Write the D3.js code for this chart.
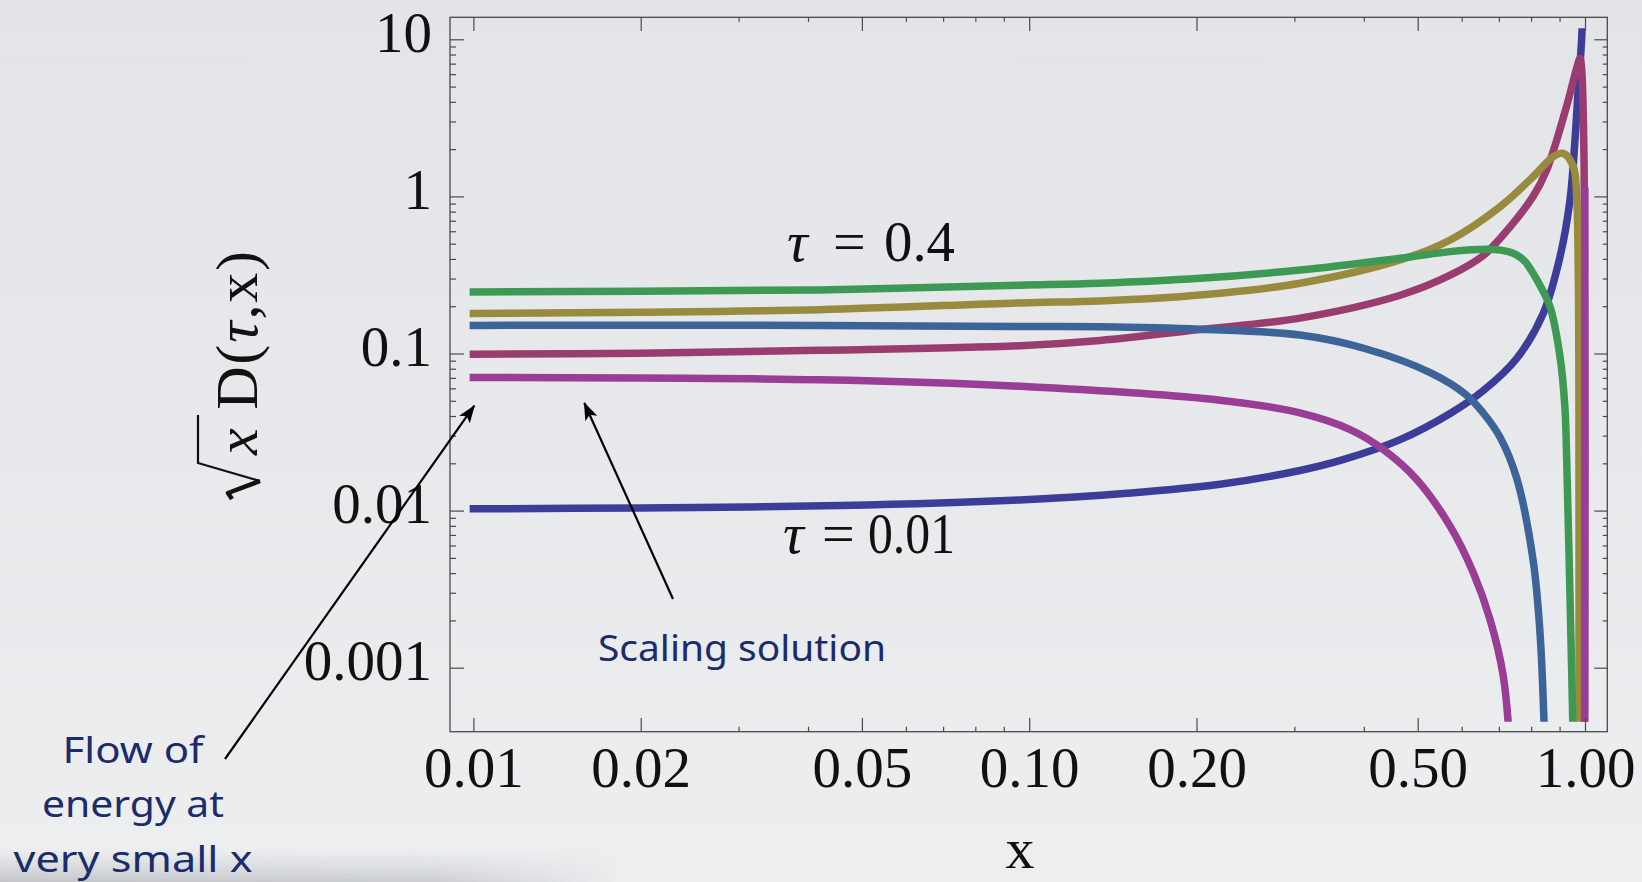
<!DOCTYPE html>
<html>
<head>
<meta charset="utf-8">
<script src="https://cdn.jsdelivr.net/npm/d3@7"></script>
<style>
  html, body { margin: 0; padding: 0; overflow: hidden; background: #e6e8eb; }
</style>
</head>
<body>
<div id="chart"></div>
<script>
// tick values and labels
const xMajor = [0.01, 0.02, 0.05, 0.1, 0.2, 0.5, 1];
const xMajorLabels = ["0.01", "0.02", "0.05", "0.10", "0.20", "0.50", "1.00"];
const xMinor = [0.03, 0.04, 0.06, 0.07, 0.08, 0.09, 0.3, 0.4, 0.6, 0.7, 0.8, 0.9];
const yMajor = [0.001, 0.01, 0.1, 1, 10];
const yMajorLabels = ["0.001", "0.01", "0.1", "1", "10"];

// curves [x, sqrt(x) D(tau,x)]
const tauSmall = [[0.01, 0.01026], [0.02, 0.0104], [0.0457, 0.01077], [0.0963, 0.0117], [0.15, 0.0129],
  [0.2204, 0.0147], [0.307, 0.018], [0.367, 0.0211], [0.465, 0.0283], [0.572, 0.0415], [0.656, 0.058],
  [0.7535, 0.093], [0.841, 0.18], [0.9016, 0.413], [0.9397, 0.95], [0.9594, 2.29], [0.972, 4.76],
  [0.986, 9.9], [0.993, 20]];
const crimson = [[0.01, 0.0989], [0.02, 0.1005], [0.042, 0.1047], [0.0963, 0.112], [0.1341, 0.121],
  [0.2029, 0.142], [0.307, 0.168], [0.465, 0.235], [0.572, 0.315], [0.656, 0.42], [0.7034, 0.54],
  [0.8065, 1.0], [0.853, 1.47], [0.926, 3.72], [0.9667, 6.6], [0.9795, 7.57], [0.986, 6.5],
  [0.9965, 1.5], [0.998, 0.0003]];
const olive = [[0.01, 0.18], [0.02, 0.183], [0.042, 0.19], [0.0963, 0.21], [0.1341, 0.216], [0.2029, 0.2357],
  [0.307, 0.28], [0.465, 0.394], [0.572, 0.528], [0.7034, 0.86], [0.8065, 1.335], [0.877, 1.79],
  [0.914, 1.88], [0.953, 1.545], [0.966, 1.0], [0.9725, 0.326], [0.975, 0.075], [0.9755, 0.0003]];
const tauLarge = [[0.01, 0.2465], [0.02, 0.249], [0.042, 0.254], [0.0963, 0.272], [0.1341, 0.28],
  [0.2029, 0.301], [0.307, 0.34], [0.465, 0.404], [0.572, 0.445], [0.625, 0.457], [0.668, 0.461],
  [0.705, 0.455], [0.735, 0.44], [0.7535, 0.424], [0.78, 0.385], [0.8065, 0.324], [0.835, 0.26],
  [0.865, 0.1986], [0.9016, 0.0955], [0.92, 0.0458], [0.927, 0.021], [0.94, 0.00272], [0.953, 0.0003]];
const steel = [[0.01, 0.151], [0.042, 0.151], [0.0963, 0.1485], [0.1341, 0.148], [0.2029, 0.1427],
  [0.307, 0.131], [0.4, 0.108], [0.53, 0.0748], [0.612, 0.0544], [0.656, 0.0418], [0.703, 0.0294],
  [0.7535, 0.0161], [0.8065, 0.00485], [0.83, 0.00166], [0.847, 0.0003]];
const scaling = [[0.01, 0.0703], [0.042, 0.068], [0.0963, 0.0618], [0.2204, 0.0504], [0.307, 0.0419],
  [0.378, 0.0328], [0.4336, 0.0245], [0.498, 0.0158], [0.5718, 0.00796], [0.6296, 0.00402],
  [0.6747, 0.00203], [0.7128, 0.000885], [0.733, 0.0003]];
const scalingEdge = [[0.9985, 0.0003], [0.9995, 1.08]];

const series = [
  { data: tauSmall, color: "#3d3d99" },
  { data: crimson, color: "#993d71" },
  { data: olive, color: "#998b3d" },
  { data: tauLarge, color: "#3d9954" },
  { data: steel, color: "#3d6499" },
  { data: scaling, color: "#993d96" },
  { data: scalingEdge, color: "#993d96" }
];

const W = 1642, H = 882;
const frame = { left: 450, right: 1607.3, top: 17.3, bottom: 731.7 };
const serif = "'Liberation Serif', 'Times New Roman', Times, serif";
const hand = "'Comic Sans MS', 'Noto Sans', 'DejaVu Sans', sans-serif";
const navy = "#1b2b6b";

const svg = d3.select('#chart').append('svg')
  .attr('width', W)
  .attr('height', H);

const defs = svg.append('defs');
const bg = defs.append('linearGradient').attr('id', 'bg').attr('x1', 0).attr('y1', 0).attr('x2', 0).attr('y2', 1);
bg.append('stop').attr('offset', '0%').attr('stop-color', '#e2e4e7');
bg.append('stop').attr('offset', '100%').attr('stop-color', '#eceef0');
const sh = defs.append('linearGradient').attr('id', 'shadow').attr('x1', 0).attr('y1', 0).attr('x2', 0).attr('y2', 1);
sh.append('stop').attr('offset', '0%').attr('stop-color', '#c9cbce').attr('stop-opacity', 0);
sh.append('stop').attr('offset', '100%').attr('stop-color', '#c0c2c5').attr('stop-opacity', 0.9);
const shx = defs.append('linearGradient').attr('id', 'shadowMask').attr('x1', 0).attr('y1', 0).attr('x2', 1).attr('y2', 0);
shx.append('stop').attr('offset', '0%').attr('stop-color', '#fff').attr('stop-opacity', 1);
shx.append('stop').attr('offset', '70%').attr('stop-color', '#fff').attr('stop-opacity', 0.8);
shx.append('stop').attr('offset', '100%').attr('stop-color', '#fff').attr('stop-opacity', 0);
defs.append('mask').attr('id', 'shm')
  .append('rect').attr('x', 0).attr('y', 840).attr('width', 620).attr('height', 42).attr('fill', 'url(#shadowMask)');

defs.append('clipPath').attr('id', 'plotClip')
  .append('rect')
  .attr('x', frame.left).attr('y', 28.3)
  .attr('width', frame.right - frame.left).attr('height', 721.7 - 28.3);

defs.append('marker')
  .attr('id', 'head')
  .attr('markerUnits', 'userSpaceOnUse')
  .attr('viewBox', '0 -7 18 14')
  .attr('refX', 17).attr('refY', 0)
  .attr('markerWidth', 18).attr('markerHeight', 14)
  .attr('orient', 'auto')
  .append('path')
  .attr('d', 'M0,-6.5 L18,0 L0,6.5 L4,0 Z')
  .attr('fill', '#000');

svg.append('rect').attr('width', W).attr('height', H).attr('fill', 'url(#bg)');
svg.append('rect').attr('x', 0).attr('y', 850).attr('width', 620).attr('height', 32)
  .attr('fill', 'url(#shadow)').attr('mask', 'url(#shm)');

const x = d3.scaleLog().domain([0.01, 1]).range([473.4, 1585]);
const y = d3.scaleLog().domain([0.001, 10]).range([667.7, 39.3]);

// minor y ticks 2..9 per decade
const yMinor = [];
[0.001, 0.01, 0.1, 1].forEach(d => { for (let k = 2; k <= 9; k++) yMinor.push(d * k); });

// curves
const line = d3.line()
  .x(d => x(d[0]))
  .y(d => y(d[1]))
  .curve(d3.curveCatmullRom.alpha(0.5));

svg.append('g')
  .attr('clip-path', 'url(#plotClip)')
  .selectAll('path')
  .data(series)
  .join('path')
  .attr('d', d => line(d.data))
  .attr('fill', 'none')
  .attr('stroke', d => d.color)
  .attr('stroke-width', 7.5)
  .attr('stroke-linecap', 'square')
  .attr('stroke-linejoin', 'round');

// frame
svg.append('rect')
  .attr('x', frame.left).attr('y', frame.top)
  .attr('width', frame.right - frame.left).attr('height', frame.bottom - frame.top)
  .attr('fill', 'none').attr('stroke', '#4a4a4a').attr('stroke-width', 1.3);

function styleAxis(g) {
  g.select('.domain').remove();
  g.selectAll('.tick line').attr('stroke', '#4a4a4a').attr('stroke-width', 1.2);
}

// bottom axis with labels
svg.append('g')
  .attr('transform', `translate(0,${frame.bottom})`)
  .call(d3.axisBottom(x).tickValues(xMajor).tickSize(-13.7).tickPadding(15)
    .tickFormat((d, i) => xMajorLabels[i]))
  .call(styleAxis)
  .call(g => g.selectAll('text')
    .attr('font-family', serif).attr('font-size', 57).attr('fill', '#111'));
svg.append('g')
  .attr('transform', `translate(0,${frame.bottom})`)
  .call(d3.axisBottom(x).tickValues(xMinor).tickSize(-5).tickFormat(''))
  .call(styleAxis);

// top axis
svg.append('g')
  .attr('transform', `translate(0,${frame.top})`)
  .call(d3.axisTop(x).tickValues(xMajor).tickSize(-13.7).tickFormat(''))
  .call(styleAxis);
svg.append('g')
  .attr('transform', `translate(0,${frame.top})`)
  .call(d3.axisTop(x).tickValues(xMinor).tickSize(-4.5).tickFormat(''))
  .call(styleAxis);

// left axis with labels
svg.append('g')
  .attr('transform', `translate(${frame.left},0)`)
  .call(d3.axisLeft(y).tickValues(yMajor).tickSize(-14).tickPadding(18)
    .tickFormat((d, i) => yMajorLabels[i]))
  .call(styleAxis)
  .call(g => g.selectAll('text')
    .attr('dy', '0.21em')
    .attr('font-family', serif).attr('font-size', 57).attr('fill', '#111'));
svg.append('g')
  .attr('transform', `translate(${frame.left},0)`)
  .call(d3.axisLeft(y).tickValues(yMinor).tickSize(-6).tickFormat(''))
  .call(styleAxis);

// right axis
svg.append('g')
  .attr('transform', `translate(${frame.right},0)`)
  .call(d3.axisRight(y).tickValues(yMajor).tickSize(-13).tickFormat(''))
  .call(styleAxis);
svg.append('g')
  .attr('transform', `translate(${frame.right},0)`)
  .call(d3.axisRight(y).tickValues(yMinor).tickSize(-4.5).tickFormat(''))
  .call(styleAxis);

// axis titles
svg.append('text')
  .attr('x', 1020).attr('y', 868)
  .attr('text-anchor', 'middle')
  .attr('font-family', serif).attr('font-size', 58).attr('fill', '#111')
  .text('x');

const yl = svg.append('g').attr('transform', 'translate(257,0) rotate(-90)');
yl.append('path')
  .attr('d', 'M-415,-59 L-463,-59 L-481,3')
  .attr('fill', 'none').attr('stroke', '#111').attr('stroke-width', 2.2);
yl.append('path')
  .attr('d', 'M-481,3 L-493,-29 L-499,-25')
  .attr('fill', 'none').attr('stroke', '#111').attr('stroke-width', 4.5).attr('stroke-linejoin', 'round');
const ylt = yl.append('text')
  .attr('x', -455).attr('y', 0)
  .attr('textLength', 204)
  .attr('font-family', serif).attr('font-size', 60).attr('fill', '#111');
ylt.append('tspan').attr('font-style', 'italic').text('x');
ylt.append('tspan').text('\u00a0D(');
ylt.append('tspan').attr('font-style', 'italic').text('τ');
ylt.append('tspan').text(',x)');

// tau labels: tau and equals sign, then the value fitted to its width
function tauLabel(xs, yBase, value, valueWidth) {
  const t = svg.append('text')
    .attr('y', yBase)
    .attr('font-family', serif).attr('font-size', 58).attr('fill', '#111');
  t.append('tspan').attr('x', xs[0]).attr('font-style', 'italic').text('τ');
  t.append('tspan').attr('x', xs[1]).text('=');
  svg.append('text')
    .attr('x', xs[2]).attr('y', yBase)
    .attr('textLength', valueWidth).attr('lengthAdjust', 'spacingAndGlyphs')
    .attr('font-family', serif).attr('font-size', 58).attr('fill', '#111')
    .text(value);
}
tauLabel([787, 833, 884], 261, '0.4', 71);
tauLabel([783, 822, 868], 553, '0.01', 87);

// annotations
svg.append('text')
  .attr('x', 598).attr('y', 661)
  .attr('font-family', hand).attr('font-size', 37).attr('fill', navy)
  .attr('textLength', 288).attr('lengthAdjust', 'spacingAndGlyphs')
  .text('Scaling solution');

const flow = ['Flow of', 'energy at', 'very small x'];
const flowWidths = [141, 182, 239];
svg.append('g').selectAll('text')
  .data(flow)
  .join('text')
  .attr('x', 133)
  .attr('y', (d, i) => 763 + i * 54.3)
  .attr('text-anchor', 'middle')
  .attr('textLength', (d, i) => flowWidths[i])
  .attr('lengthAdjust', 'spacingAndGlyphs')
  .attr('font-family', hand).attr('font-size', 37).attr('fill', navy)
  .text(d => d);

const arrows = [
  { x1: 225, y1: 759, x2: 474.3, y2: 405.7 },
  { x1: 673, y1: 599, x2: 584.3, y2: 403 }
];
svg.append('g').selectAll('line')
  .data(arrows)
  .join('line')
  .attr('x1', d => d.x1).attr('y1', d => d.y1)
  .attr('x2', d => d.x2).attr('y2', d => d.y2)
  .attr('stroke', '#000').attr('stroke-width', 2.2)
  .attr('marker-end', 'url(#head)');
</script>
</body>
</html>
